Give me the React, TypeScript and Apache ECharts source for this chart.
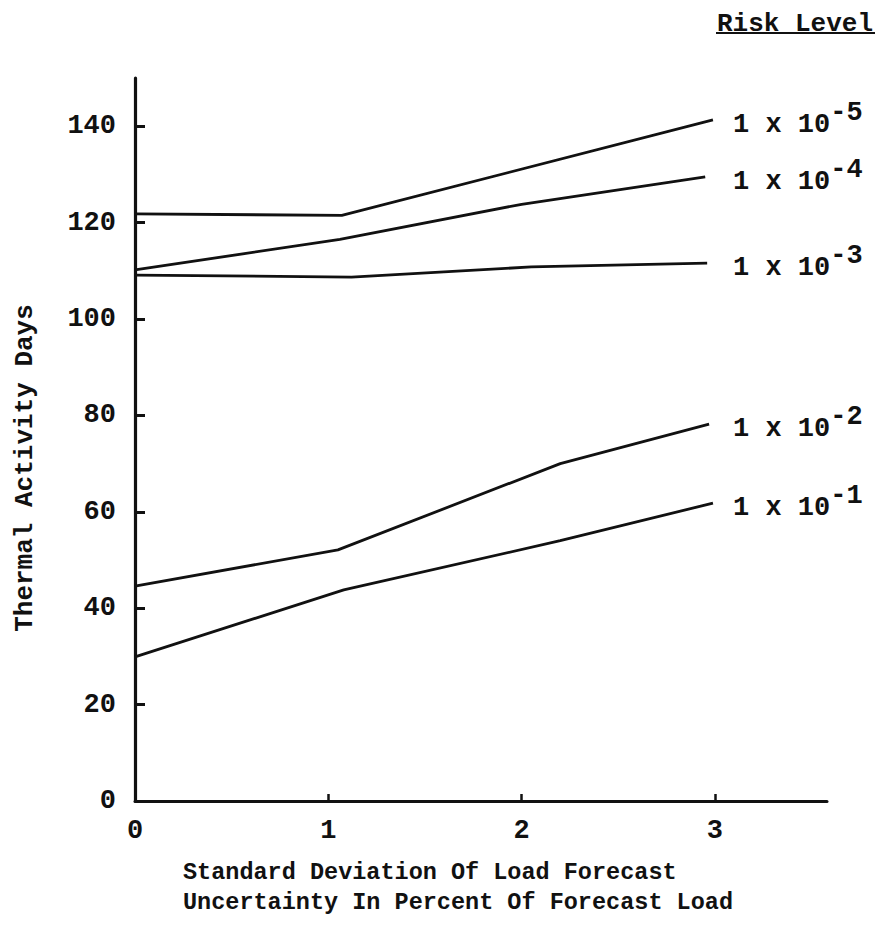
import React, { useEffect, useRef } from "react";
import * as echarts from "echarts";

const FONT = '"Liberation Mono", "Courier New", monospace';
const INK = "#111111";

// Axis ticks
const xTicks = [0, 1, 2, 3];
const yTicks = [0, 20, 40, 60, 80, 100, 120, 140];

// Risk level exponents (1 x 10^exp)
const riskExponents = ["-5", "-4", "-3", "-2", "-1"];

// Thermal activity days vs. forecast uncertainty (%), one curve per risk level
const risk1e5: [number, number][] = [[0, 121.8], [1.07, 121.5], [2.99, 141.3]];
const risk1e4: [number, number][] = [[0, 110.2], [1.06, 116.5], [2.0, 123.8], [2.95, 129.5]];
const risk1e3: [number, number][] = [[0, 109.1], [1.12, 108.7], [2.05, 110.8], [2.96, 111.6]];
const risk1e2: [number, number][] = [[0, 44.6], [1.05, 52.1], [2.2, 70.0], [2.97, 78.2]];
const risk1e1: [number, number][] = [[0, 29.9], [1.08, 43.8], [2.2, 54.0], [2.99, 61.8]];

const curves = [risk1e5, risk1e4, risk1e3, risk1e2, risk1e1];

// Plot geometry
const GRID_LEFT = 135;
const GRID_RIGHT = 54;
const CHART_W = 881;
const X_MAX = 3.58;
const PX_PER_X = (CHART_W - GRID_LEFT - GRID_RIGHT) / X_MAX;
// All risk-level labels start in one column to the right of the curves
const LABEL_COLUMN = 733;

export default function App() {
  const ref = useRef<HTMLDivElement>(null);

  useEffect(() => {
    if (!ref.current) return;
    const chart = echarts.init(ref.current, null, { renderer: "svg" });

    const series = curves.map((data, i) => {
      const lastX = data[data.length - 1][0];
      const endPx = GRID_LEFT + lastX * PX_PER_X;
      return {
        type: "line",
        name: "1 x 10^" + riskExponents[i],
        data,
        showSymbol: false,
        symbol: "none",
        lineStyle: { color: INK, width: 2.8 },
        endLabel: {
          show: true,
          distance: LABEL_COLUMN - endPx,
          formatter: () => `{b|1 x 10}{s|${riskExponents[i]}}`,
          rich: {
            b: { fontFamily: FONT, fontSize: 27, fontWeight: "bold", color: INK, lineHeight: 28 },
            s: {
              fontFamily: FONT,
              fontSize: 27,
              fontWeight: "bold",
              color: INK,
              lineHeight: 28,
              padding: [0, 0, 24, 0],
            },
          },
          offset: [0, 5],
        },
      };
    });

    chart.setOption({
      animation: false,
      backgroundColor: "#ffffff",
      grid: { left: GRID_LEFT, top: 78, right: GRID_RIGHT, bottom: 138, containLabel: false },
      xAxis: {
        type: "value",
        min: 0,
        max: X_MAX,
        axisLine: { show: true, lineStyle: { color: INK, width: 3 } },
        axisTick: {
          show: true,
          inside: true,
          length: 7,
          customValues: xTicks,
          lineStyle: { color: INK, width: 2.5 },
        },
        axisLabel: {
          show: true,
          customValues: xTicks,
          margin: 16,
          fontFamily: FONT,
          fontSize: 27,
          fontWeight: "bold",
          color: INK,
        },
        splitLine: { show: false },
      },
      yAxis: {
        type: "value",
        min: 0,
        max: 150,
        axisLine: { show: true, lineStyle: { color: INK, width: 3.2 } },
        axisTick: {
          show: true,
          inside: true,
          length: 10,
          customValues: yTicks,
          lineStyle: { color: INK, width: 3 },
        },
        axisLabel: {
          show: true,
          customValues: yTicks,
          margin: 19,
          fontFamily: FONT,
          fontSize: 27,
          fontWeight: "bold",
          color: INK,
        },
        splitLine: { show: false },
      },
      series,
      graphic: [
        {
          type: "text",
          x: 717,
          y: 24,
          style: {
            text: "Risk Level",
            fontFamily: FONT,
            fontSize: 26,
            fontWeight: "bold",
            fill: INK,
            align: "left",
            verticalAlign: "middle",
          },
        },
        {
          type: "line",
          shape: { x1: 716, y1: 33, x2: 875, y2: 33 },
          style: { stroke: INK, lineWidth: 2 },
        },
        {
          type: "text",
          x: 25,
          y: 468,
          rotation: Math.PI / 2,
          style: {
            text: "Thermal Activity Days",
            fontFamily: FONT,
            fontSize: 26,
            fontWeight: "bold",
            fill: INK,
            align: "center",
            verticalAlign: "middle",
          },
        },
        {
          type: "text",
          x: 183,
          y: 857,
          style: {
            text: "Standard Deviation Of Load Forecast\nUncertainty In Percent Of Forecast Load",
            fontFamily: FONT,
            fontSize: 23.5,
            fontWeight: "bold",
            lineHeight: 30,
            fill: INK,
            align: "left",
            verticalAlign: "top",
          },
        },
      ],
    });

    return () => chart.dispose();
  }, []);

  return (
    <div
      ref={ref}
      style={{ position: "fixed", left: 0, top: 0, width: CHART_W, height: 939, background: "#fff" }}
    />
  );
}
